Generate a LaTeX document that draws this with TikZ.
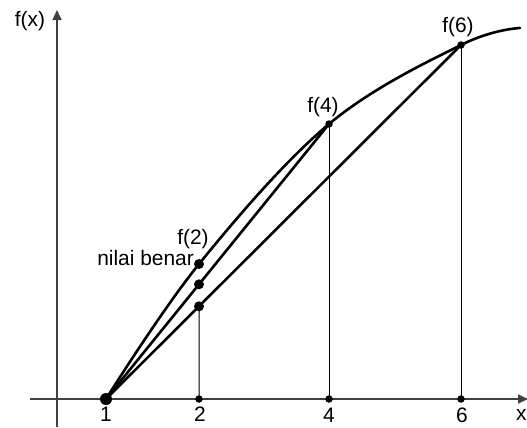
\documentclass[tikz,border=0pt]{standalone}
\usepackage{fontspec}
\setmainfont{Liberation Sans}
\usetikzlibrary{arrows.meta, calc}
\tikzset{
  axis/.style={draw=black!75, line width=1.6bp, -{Triangle[length=10bp,width=9bp]}},
  kurva/.style={line width=2.6bp, line cap=round},
  guide/.style={line width=1bp},
  bigdot/.style={circle, fill=black, inner sep=0pt, minimum size=12bp},
  middot/.style={circle, fill=black, inner sep=0pt, minimum size=10bp},
  smalldot/.style={circle, fill=black, inner sep=0pt, minimum size=7.5bp},
  lbl/.style={font=\fontsize{21}{24}\selectfont, inner sep=0pt}
}
\begin{document}
\begin{tikzpicture}[x=1bp, y=-1bp]
  \useasboundingbox (0,0) rectangle (527,427);

  % Sumbu
  \coordinate (xkiri) at (30,399);
  \coordinate (xkanan) at (528,399);
  \coordinate (ybawah) at (57,427);
  \coordinate (yatas) at (57,10);
  \draw[axis] (xkiri) -- (xkanan);
  \draw[axis] (ybawah) -- (yatas);

  % Titik pada sumbu x
  \node[bigdot] (p1) at (106,399) {};
  \node[smalldot] (x2) at (199,399) {};
  \node[smalldot] (x4) at (329,399) {};
  \node[smalldot] (x6) at (461,399) {};

  % Titik pada kurva
  \node[smalldot] (f4) at (329,124) {};
  \node[smalldot] (f6) at (461,45) {};
  \node[middot] (benar) at (199,264) {};
  \coordinate (ujung) at (520,28);

  % Kurva dan tali busur
  \draw[kurva] plot[smooth, tension=0.6] coordinates {(p1.center) (benar.center) (f4.center) (f6.center) (ujung)};
  \draw[kurva] (p1.center) -- (f4.center);
  \draw[kurva] (p1.center) -- (f6.center);

  % Titik pada tali busur
  \node[middot] (tali4) at (intersection of p1.center--f4.center and x2.center--benar.center) {};
  \node[middot] (tali6) at (intersection of p1.center--f6.center and x2.center--benar.center) {};

  % Garis tegak
  \draw[guide] (x2.center) -- (tali6.center);
  \draw[guide] (x4.center) -- (f4.center);
  \draw[guide] (x6.center) -- (f6.center);

  % Label
  \node[lbl] (lfx) at (30,21) {f(x)};
  \node[lbl, anchor=west] (lx) at (516,415) {x};
  \node[lbl] (l1) at (106,414) {1};
  \node[lbl] (l2) at (200,414) {2};
  \node[lbl] (l4) at (329,415) {4};
  \node[lbl] (l6) at (462,415) {6};
  \node[lbl] (lf2) at (193,239) {f(2)};
  \node[lbl, anchor=base east] (lbenar) at (194,265) {nilai benar};
  \node[lbl] (lf4) at (323,107) {f(4)};
  \node[lbl] (lf6) at (458,27) {f(6)};
\end{tikzpicture}
\end{document}
